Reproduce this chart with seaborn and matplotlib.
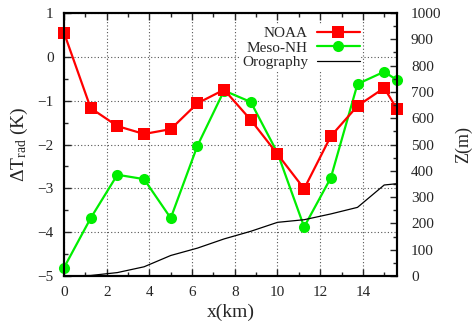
import numpy as np
import pandas as pd
import matplotlib
matplotlib.use("Agg")
import matplotlib.pyplot as plt
from matplotlib.ticker import MultipleLocator
import seaborn as sns

x_km = [0, 1.25, 2.5, 3.75, 5, 6.25, 7.5, 8.75, 10, 11.25, 12.5, 13.75, 15, 15.6]
noaa = [0.55, -1.17, -1.58, -1.76, -1.65, -1.06, -0.75, -1.44, -2.22, -3.01, -1.81, -1.12, -0.71, -1.19]
mesonh = [-4.81, -3.68, -2.69, -2.79, -3.68, -2.03, -0.77, -1.03, -2.19, -3.88, -2.76, -0.62, -0.34, -0.53]
orography = [0, 2, 13, 35, 78, 106, 141, 170, 204, 214, 236, 261, 346, 351]

xticks = [0, 2, 4, 6, 8, 10, 12, 14]
yticks = [-5, -4, -3, -2, -1, 0, 1]
y2ticks = [0, 100, 200, 300, 400, 500, 600, 700, 800, 900, 1000]

sns.set_style("ticks")
plt.rcParams['font.family'] = ['Liberation Serif', 'DejaVu Serif']
plt.rcParams['mathtext.fontset'] = 'custom'
plt.rcParams['mathtext.rm'] = 'Liberation Serif'
plt.rcParams['mathtext.it'] = 'Liberation Serif:italic'

df = pd.DataFrame({"x": x_km, "NOAA": noaa, "Meso-NH": mesonh, "Orography": orography})

fig = plt.figure(figsize=(4.77, 3.26), dpi=100)
ax = fig.add_axes([64/477, 1-276/326, (397-64)/477, (276-13)/326])
ax2 = ax.twinx()

sns.lineplot(data=df, x="x", y="NOAA", ax=ax, color="#ff0000", marker="s", markersize=8,
             markeredgewidth=0, linewidth=1.6, label="NOAA", legend=False, zorder=4)
sns.lineplot(data=df, x="x", y="Meso-NH", ax=ax, color="#00ee00", marker="o", markersize=8,
             markeredgewidth=0, linewidth=1.6, label="Meso-NH", legend=False, zorder=3)
sns.lineplot(data=df, x="x", y="Orography", ax=ax2, color="black", linewidth=0.9,
             label="Orography", legend=False)
for ln in ax.get_lines():
    ln.set_clip_on(False)

ax.set_xlim(0, 15.6)
ax.set_ylim(-5, 1)
ax2.set_ylim(0, 1000)
ax.set_xticks(xticks)
ax.set_yticks(yticks)
ax2.set_yticks(y2ticks)
ax.xaxis.set_minor_locator(MultipleLocator(1))
ax.yaxis.set_minor_locator(MultipleLocator(0.5))
ax2.yaxis.set_minor_locator(MultipleLocator(50))

ax.grid(True, which="major", linestyle=(0, (1, 2)), color="#555555", linewidth=0.8)
ax.set_axisbelow(True)

for a in (ax, ax2):
    for s in a.spines.values():
        s.set_linewidth(1.5)
        s.set_color("black")
ax.tick_params(which="both", direction="in", top=True, right=False, labelsize=11, pad=7.5)
ax.tick_params(which="major", length=5, width=1)
ax.tick_params(which="minor", length=3, width=1)
ax2.tick_params(which="both", direction="in", labelsize=11, pad=10)
ax2.tick_params(which="major", length=5, width=1)
ax2.tick_params(which="minor", length=3, width=1)

ax.set_xlabel("x(km)", fontsize=14, labelpad=3)
ax.set_ylabel(r"$\Delta$T$_{\rm rad}$ (K)", fontsize=14, labelpad=5)
ax2.set_ylabel("Z(m)", fontsize=13, labelpad=10)

h1, l1 = ax.get_legend_handles_labels()
h2, l2 = ax2.get_legend_handles_labels()
leg = ax2.legend(h1 + h2, l1 + l2, loc="upper right", bbox_to_anchor=(0.893, 0.955),
                 markerfirst=False, frameon=True, fontsize=11, handlelength=2.8,
                 labelspacing=0.05, borderpad=0.1, borderaxespad=0, handletextpad=0.6)
leg.get_frame().set_facecolor("white")
leg.get_frame().set_edgecolor("none")
leg.get_frame().set_alpha(1)
for t in leg.get_texts():
    t.set_ha("right")
leg._legend_box.align = "right"

fig.savefig("out.png", dpi=100)
